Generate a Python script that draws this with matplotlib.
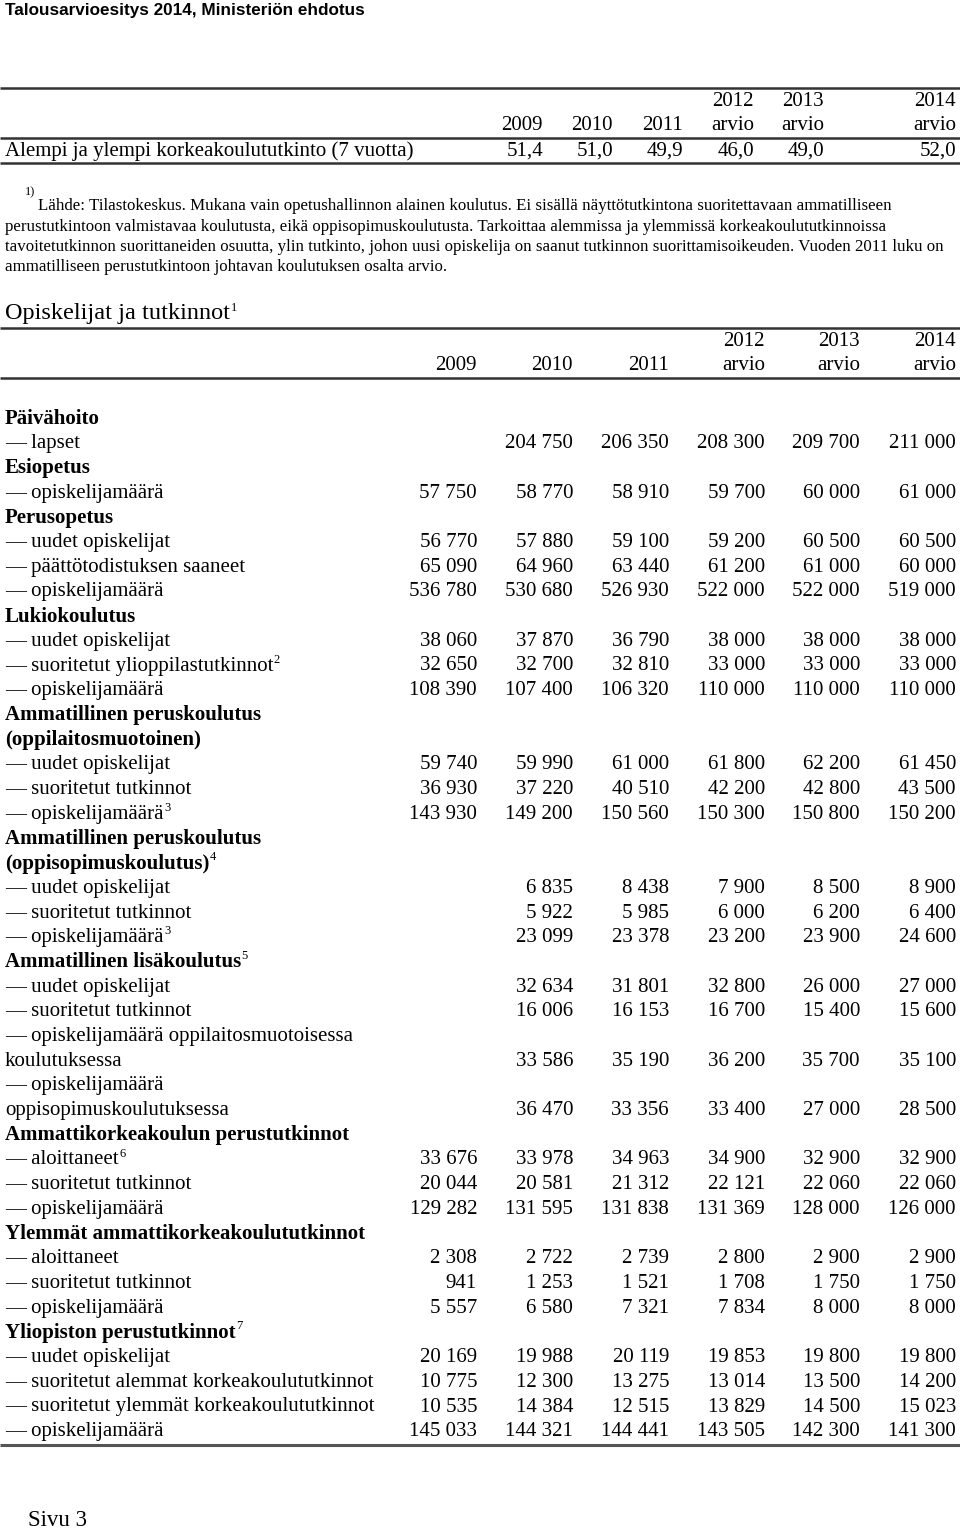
import matplotlib
matplotlib.use("Agg")
import matplotlib.pyplot as plt

# ---------------- data ----------------
page_title = "Talousarvioesitys 2014, Ministeriön ehdotus"

top_years_line1 = ["", "", "", "2012", "2013", "2014"]
top_years_line2 = ["2009", "2010", "2011", "arvio", "arvio", "arvio"]
top_label = "Alempi ja ylempi korkeakoulututkinto (7 vuotta)"
top_values = [51.4, 51.0, 49.9, 46.0, 49.0, 52.0]

footnote_lines = [
    "Lähde: Tilastokeskus. Mukana vain opetushallinnon alainen koulutus. Ei sisällä näyttötutkintona suoritettavaan ammatilliseen",
    "perustutkintoon valmistavaa koulutusta, eikä oppisopimuskoulutusta. Tarkoittaa alemmissa ja ylemmissä korkeakoulututkinnoissa",
    "tavoitetutkinnon suorittaneiden osuutta, ylin tutkinto, johon uusi opiskelija on saanut tutkinnon suorittamisoikeuden. Vuoden 2011 luku on",
    "ammatilliseen perustutkintoon johtavan koulutuksen osalta arvio.",
]

table_title = "Opiskelijat ja tutkinnot"
years_line1 = ["", "", "", "2012", "2013", "2014"]
years_line2 = ["2009", "2010", "2011", "arvio", "arvio", "arvio"]

# row labels, row kind ('h' = bold heading, 'd' = dashed item, 'c' = continuation), superscripts
row_labels = [
    "Päivähoito", "lapset",
    "Esiopetus", "opiskelijamäärä",
    "Perusopetus", "uudet opiskelijat", "päättötodistuksen saaneet", "opiskelijamäärä",
    "Lukiokoulutus", "uudet opiskelijat", "suoritetut ylioppilastutkinnot", "opiskelijamäärä",
    "Ammatillinen peruskoulutus", "(oppilaitosmuotoinen)", "uudet opiskelijat", "suoritetut tutkinnot", "opiskelijamäärä",
    "Ammatillinen peruskoulutus", "(oppisopimuskoulutus)", "uudet opiskelijat", "suoritetut tutkinnot", "opiskelijamäärä",
    "Ammatillinen lisäkoulutus", "uudet opiskelijat", "suoritetut tutkinnot",
    "opiskelijamäärä oppilaitosmuotoisessa", "koulutuksessa", "opiskelijamäärä", "oppisopimuskoulutuksessa",
    "Ammattikorkeakoulun perustutkinnot", "aloittaneet", "suoritetut tutkinnot", "opiskelijamäärä",
    "Ylemmät ammattikorkeakoulututkinnot", "aloittaneet", "suoritetut tutkinnot", "opiskelijamäärä",
    "Yliopiston perustutkinnot", "uudet opiskelijat", "suoritetut alemmat korkeakoulututkinnot",
    "suoritetut ylemmät korkeakoulututkinnot", "opiskelijamäärä",
]
row_kinds = [
    "h", "d",
    "h", "d",
    "h", "d", "d", "d",
    "h", "d", "d", "d",
    "h", "h", "d", "d", "d",
    "h", "h", "d", "d", "d",
    "h", "d", "d",
    "d", "c", "d", "c",
    "h", "d", "d", "d",
    "h", "d", "d", "d",
    "h", "d", "d", "d", "d",
]
row_sups = {10: "2", 16: "3", 18: "4", 21: "3", 22: "5", 30: "6", 37: "7"}

N = None
v2009 = [N, N, N, 57750, N, 56770, 65090, 536780, N, 38060, 32650, 108390,
         N, N, 59740, 36930, 143930, N, N, N, N, N, N, N, N, N, N, N, N,
         N, 33676, 20044, 129282, N, 2308, 941, 5557, N, 20169, 10775, 10535, 145033]
v2010 = [N, 204750, N, 58770, N, 57880, 64960, 530680, N, 37870, 32700, 107400,
         N, N, 59990, 37220, 149200, N, N, 6835, 5922, 23099, N, 32634, 16006, N, 33586, N, 36470,
         N, 33978, 20581, 131595, N, 2722, 1253, 6580, N, 19988, 12300, 14384, 144321]
v2011 = [N, 206350, N, 58910, N, 59100, 63440, 526930, N, 36790, 32810, 106320,
         N, N, 61000, 40510, 150560, N, N, 8438, 5985, 23378, N, 31801, 16153, N, 35190, N, 33356,
         N, 34963, 21312, 131838, N, 2739, 1521, 7321, N, 20119, 13275, 12515, 144441]
v2012 = [N, 208300, N, 59700, N, 59200, 61200, 522000, N, 38000, 33000, 110000,
         N, N, 61800, 42200, 150300, N, N, 7900, 6000, 23200, N, 32800, 16700, N, 36200, N, 33400,
         N, 34900, 22121, 131369, N, 2800, 1708, 7834, N, 19853, 13014, 13829, 143505]
v2013 = [N, 209700, N, 60000, N, 60500, 61000, 522000, N, 38000, 33000, 110000,
         N, N, 62200, 42800, 150800, N, N, 8500, 6200, 23900, N, 26000, 15400, N, 35700, N, 27000,
         N, 32900, 22060, 128000, N, 2900, 1750, 8000, N, 19800, 13500, 14500, 142300]
v2014 = [N, 211000, N, 61000, N, 60500, 60000, 519000, N, 38000, 33000, 110000,
         N, N, 61450, 43500, 150200, N, N, 8900, 6400, 24600, N, 27000, 15600, N, 35100, N, 28500,
         N, 32900, 22060, 126000, N, 2900, 1750, 8000, N, 19800, 14200, 15023, 141300]
columns = [v2009, v2010, v2011, v2012, v2013, v2014]

page_footer = "Sivu 3"

# ---------------- layout ----------------
W, H = 960, 1531
SERIF = ["Liberation Serif", "DejaVu Serif"]
fig = plt.figure(figsize=(W / 100, H / 100), dpi=100)
ax = fig.add_axes([0, 0, 1, 1])
ax.set_xlim(0, W)
ax.set_ylim(H, 0)
ax.axis("off")

def fmt_int(v):
    return f"{v:,}".replace(",", " ")

def fmt_dec(v):
    return f"{v:.1f}".replace(".", ",")

FS = 15.0  # body font size (pt)
SUP = 9.0
rule_color = "#333333"

# title
ax.text(5, 11, page_title, family=["Liberation Sans Narrow", "Liberation Sans"],
        fontweight="bold", fontsize=12.3, va="center", ha="left")

# --- top small table ---
top_cols_x = [543, 613, 683, 754, 824, 956]
ax.hlines([88, 138, 163], 0, W, color=rule_color, lw=1.8)
for x, a, b in zip(top_cols_x, top_years_line1, top_years_line2):
    if a:
        ax.text(x, 101, a, family=SERIF, fontsize=FS, ha="right", va="center")
    ax.text(x, 125, b, family=SERIF, fontsize=FS, ha="right", va="center")
ax.text(5, 151, top_label, family=SERIF, fontsize=FS, ha="left", va="center")
for x, v in zip(top_cols_x, top_values):
    ax.text(x, 151, fmt_dec(v), family=SERIF, fontsize=FS, ha="right", va="center")

# --- footnote ---
ax.text(25, 192, "1)", family=SERIF, fontsize=9, ha="left", va="center")
fn_y = [206, 227, 247, 267]
fn_x = [38, 5, 5, 5]
for x, y, line in zip(fn_x, fn_y, footnote_lines):
    ax.text(x, y, line, family=SERIF, fontsize=12.2, ha="left", va="center")

# --- main table ---
t = ax.text(5, 314, table_title, family=SERIF, fontsize=17.5, ha="left", va="center")
ax.annotate("1", xy=(1.0, 1.0), xycoords=t, xytext=(0.5, 1), textcoords="offset points",
            family=SERIF, fontsize=SUP, ha="left", va="top")
ax.hlines([328, 378], 0, W, color=rule_color, lw=1.8)

cols_x = [477, 573, 669, 765, 860, 956]
for x, a, b in zip(cols_x, years_line1, years_line2):
    if a:
        ax.text(x, 341, a, family=SERIF, fontsize=FS, ha="right", va="center")
    ax.text(x, 366, b, family=SERIF, fontsize=FS, ha="right", va="center")

y0, dy = 419, 24.7
for i, (lab, kind) in enumerate(zip(row_labels, row_kinds)):
    y = y0 + i * dy
    if kind == "h":
        tt = ax.text(5, y, lab, family=SERIF, fontsize=FS, fontweight="bold", ha="left", va="center")
    elif kind == "d":
        tt = ax.text(5, y, "\u2014 " + lab, family=SERIF, fontsize=FS, ha="left", va="center")
    else:
        tt = ax.text(5, y, lab, family=SERIF, fontsize=FS, ha="left", va="center")
    if i in row_sups:
        ax.annotate(row_sups[i], xy=(1.0, 1.0), xycoords=tt, xytext=(0.3, 2),
                    textcoords="offset points", family=SERIF, fontsize=SUP,
                    ha="left", va="top")
    for x, col in zip(cols_x, columns):
        v = col[i]
        if v is not None:
            ax.text(x, y, fmt_int(v), family=SERIF, fontsize=FS, ha="right", va="center")

ax.hlines([y0 + (len(row_labels) - 1) * dy + 13], 0, W, color="#555555", lw=2.2)

ax.text(28, 1521, page_footer, family=SERIF, fontsize=16.5, ha="left", va="center")

fig.savefig("out.png", dpi=100, facecolor="white")
